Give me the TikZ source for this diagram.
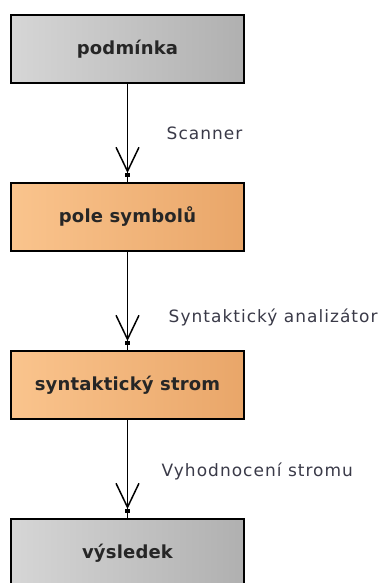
\documentclass[tikz,border=0pt]{standalone}
\usepackage{fontspec}
\setmainfont{DejaVu Sans}[LetterSpace=6]
\newfontfamily\boxfont{DejaVu Sans}[LetterSpace=1]
\usepackage{xcolor}
\usepackage{tikz}
\usetikzlibrary{positioning, arrows.meta, calc}

\definecolor{boxgrayL}{HTML}{D6D6D6}
\definecolor{boxgrayR}{HTML}{B0B0B0}
\definecolor{boxorangeL}{HTML}{FAC48D}
\definecolor{boxorangeR}{HTML}{E9A669}
\definecolor{labeltext}{HTML}{3A3A48}

\begin{document}
\begin{tikzpicture}[
                x=1pt, y=1pt,
                node distance=100pt,
                stepbox/.style={draw=black, line width=1.3pt, rectangle, minimum width=233pt,
                    minimum height=68pt, inner sep=0pt, outer sep=0pt,
                    font=\boxfont\fontsize{18}{21}\selectfont\bfseries, text=black!85},
                graybox/.style={stepbox, left color=boxgrayL, right color=boxgrayR},
                orangebox/.style={stepbox, left color=boxorangeL, right color=boxorangeR},
                edgelabel/.style={anchor=west, inner sep=0pt, text=labeltext,
                    font=\fontsize{17}{20}\selectfont},
                flow/.style={-{Straight Barb[length=24pt, width=23pt, line width=1.5pt]Square[length=4pt, width=4.5pt]},
                    line width=1.2pt, shorten >=6pt}
                ]

                \clip (0,0) rectangle (383,-583);

                % 노드 배치
                \node[graybox] (P) at (127.5,-49) {podmínka};
                \node[orangebox] (S) [below=of P] {pole symbolů};
                \node[orangebox] (T) [below=of S] {syntaktický strom};
                \node[graybox] (V) [below=of T] {výsledek};

                % 에지 연결
                \foreach \a/\b in {P/S, S/T, T/V} {
                    \draw[line width=1.2pt] (\a) -- (\b);
                    \draw[flow] (\a) -- (\b);
                }

                % 라벨
                \node[edgelabel, xshift=39pt] (l1) at ($(P.south)!0.5!(S.north)$) {Scanner};
                \node[edgelabel, xshift=41pt, yshift=-16pt] (l2) at ($(S.south)!0.5!(T.north)$) {Syntaktický analizátor};
                \node[edgelabel, xshift=34pt, yshift=-2pt] (l3) at ($(T.south)!0.5!(V.north)$) {Vyhodnocení stromu};
            \end{tikzpicture}
\end{document}
